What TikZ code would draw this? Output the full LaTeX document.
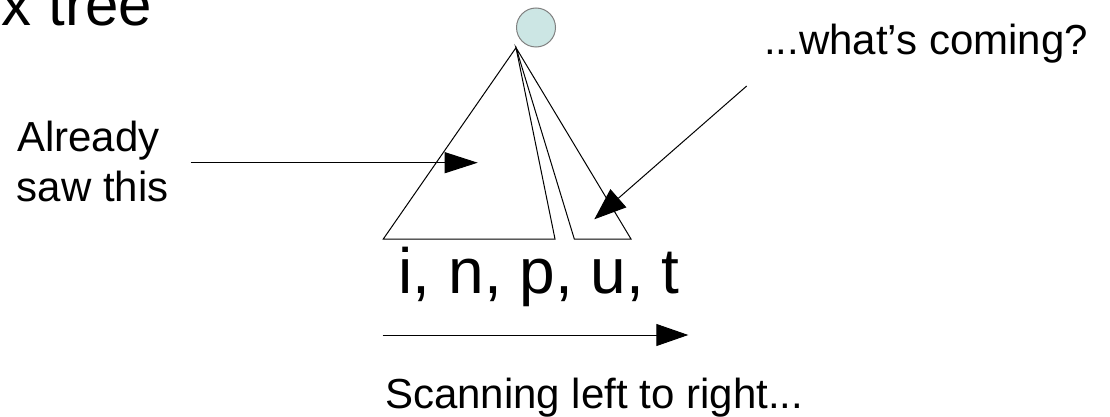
\documentclass[tikz,border=0pt]{standalone}
\usepackage{fontspec}
\setmainfont{Liberation Sans}
\usetikzlibrary{arrows.meta}
\definecolor{rootfill}{RGB}{204,230,228}
\definecolor{rootline}{RGB}{128,128,128}
\tikzset{
  label42/.style={inner sep=0pt, anchor=base west, font=\fontsize{42}{50}\selectfont},
  treeedge/.style={draw=black, line width=1pt, line join=miter},
  pointer/.style={draw=black, line width=1pt, -{Triangle[length=33pt,width=21pt]}},
}
\begin{document}
\begin{tikzpicture}[x=1pt,y=-1pt]
  \useasboundingbox (0,0) rectangle (1110,417);
  \clip (0,0) rectangle (1110,417);

  % heading, cut at the page edge
  \node[inner sep=0pt, anchor=base east, font=\fontsize{60}{72}\selectfont] (title) at (152,25.5) {x tree};

  % root of the tree
  \node[circle, draw=rootline, fill=rootfill, line width=1pt, minimum size=39pt, inner sep=0pt] (root) at (536,27.5) {};

  % two subtrees hanging from the same apex
  \coordinate (apex) at (516,47.7);
  \coordinate (seenL) at (383.3,239);
  \coordinate (seenR) at (555,239);
  \coordinate (nextL) at (574.3,239);
  \coordinate (nextR) at (631,239);
  \draw[treeedge] (apex) -- (seenL) -- (seenR) -- cycle;
  \draw[treeedge] (apex) -- (nextL) -- (nextR) -- cycle;

  % labels
  \node[label42] (already) at (17,151.7) {Already};
  \node[label42] (sawthis) at (16.5,201.7) {saw this};
  \node[label42] (coming) at (764,55) {...what’s coming?};
  \node[inner sep=0pt, anchor=base west, font=\fontsize{64}{76}\selectfont] (input) at (398.5,293) {i, n, p, u, t};
  \node[label42] (scan) at (385,408.5) {Scanning left to right...};

  % pointers into the subtrees
  \coordinate (sawtail) at (190.7,162.7);
  \coordinate (sawtip) at (477.7,162.7);
  \draw[pointer] (sawtail) -- (sawtip);

  \coordinate (cometail) at (746.7,86);
  \coordinate (cometip) at (594.3,219.3);
  \draw[pointer, -{Triangle[length=32pt,width=24pt]}] (cometail) -- (cometip);

  % scanning direction
  \coordinate (scanL) at (382.7,335);
  \coordinate (scanR) at (688.3,335);
  \draw[pointer, -{Triangle[length=32pt,width=22pt]}] (scanL) -- (scanR);
\end{tikzpicture}
\end{document}
